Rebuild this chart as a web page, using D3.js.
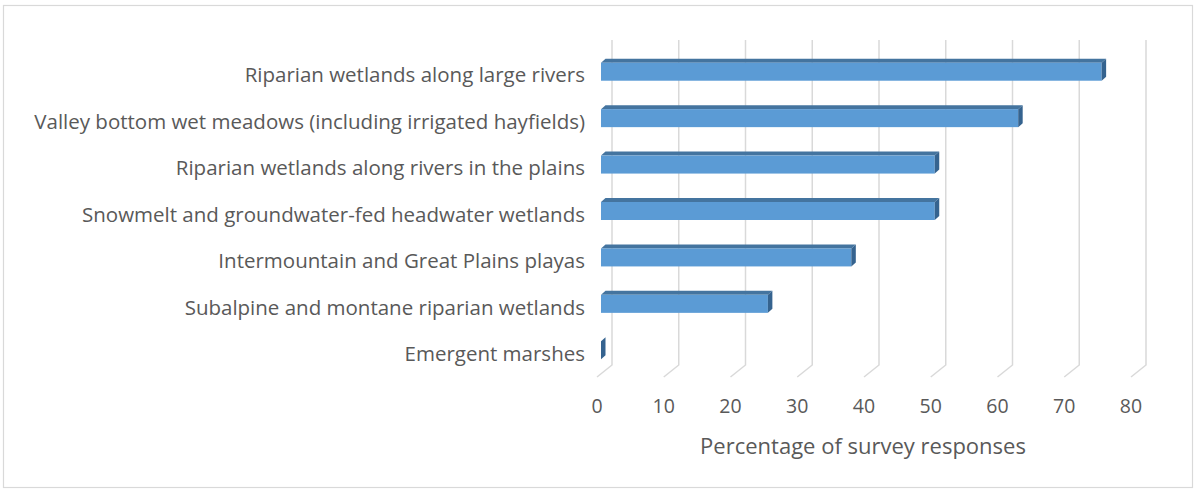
<!DOCTYPE html>
<html>
<head>
<meta charset="utf-8">
<script src="https://cdn.jsdelivr.net/npm/d3@7"></script>
<style>
  body { margin: 0; background: #fff; }
  text { font-family: "Open Sans", "Noto Sans", sans-serif; fill: #595959; }
</style>
</head>
<body>
<svg id="chart"></svg>
<script>
// survey data
var categories = [
  "Riparian wetlands along large rivers",
  "Valley bottom wet meadows (including irrigated hayfields)",
  "Riparian wetlands along rivers in the plains",
  "Snowmelt and groundwater-fed headwater wetlands",
  "Intermountain and Great Plains playas",
  "Subalpine and montane riparian wetlands",
  "Emergent marshes"
];
var percentages = [75, 62.5, 50, 50, 37.5, 25, 0];
var ticks = [0, 10, 20, 30, 40, 50, 60, 70, 80];
var axisTitle = "Percentage of survey responses";

var svgWidth = 1197,
    svgHeight = 492;

// 3d offsets
var wallDx = 15, wallDy = -12;   // floor front -> back wall
var barDx = 4.5, barDy = -4;     // bar depth
var barShift = 4;                // bar sits a bit behind the front plane

var svg = d3.select('#chart')
    .attr('width', svgWidth)
    .attr('height', svgHeight)

// outer border
svg.append('rect')
  .attr('x', 3.5).attr('y', 5.5)
  .attr('width', 1189).attr('height', 482)
  .attr('fill', '#fff')
  .attr('stroke', '#d9d9d9')
  .attr('stroke-width', 1.2)

var x = d3.scaleLinear().domain([0, 80]).range([597, 1131])
var y = d3.scaleBand().domain(categories).range([52, 377]).paddingInner(0.61).paddingOuter(0.305)

// gridlines: back wall vertical + floor diagonal
var grid = svg.append('g')
grid.selectAll('path')
  .data(ticks)
  .enter()
  .append('path')
  .attr('d', function(d) {
    var xb = x(d) + wallDx;
    return 'M' + xb + ',40 L' + xb + ',' + (377 + wallDy) + ' L' + x(d) + ',377';
  })
  .attr('fill', 'none')
  .attr('stroke', '#d9d9d9')
  .attr('stroke-width', 1.5)

// bars
var bars = svg.selectAll('.bar')
  .data(categories)
  .enter()
  .append('g')
  .attr('class', 'bar')

function barGeom(d, i) {
  var x0 = x(0) + barShift,
      x1 = x(percentages[i]) + barShift,
      yTop = y(d) + y.bandwidth() / 2 - 3.5 - 9,
      yBot = yTop + 18;
  return {x0: x0, x1: x1, yTop: yTop, yBot: yBot};
}

// top face
bars.append('path')
  .attr('d', function(d, i) {
    var g = barGeom(d, i);
    if (percentages[i] === 0) return '';
    return 'M' + g.x0 + ',' + g.yTop + ' L' + (g.x0 + barDx) + ',' + (g.yTop + barDy) +
      ' L' + (g.x1 + barDx) + ',' + (g.yTop + barDy) + ' L' + g.x1 + ',' + g.yTop + 'Z';
  })
  .attr('fill', '#44749f')

// front face
bars.append('rect')
  .attr('x', function(d, i) { return barGeom(d, i).x0; })
  .attr('y', function(d, i) { return barGeom(d, i).yTop; })
  .attr('width', function(d, i) { var g = barGeom(d, i); return g.x1 - g.x0; })
  .attr('height', 18)
  .attr('fill', '#5b9bd5')

// side face
bars.append('path')
  .attr('d', function(d, i) {
    var g = barGeom(d, i);
    return 'M' + g.x1 + ',' + g.yTop + ' L' + (g.x1 + barDx) + ',' + (g.yTop + barDy) +
      ' L' + (g.x1 + barDx) + ',' + (g.yBot + barDy) + ' L' + g.x1 + ',' + g.yBot + 'Z';
  })
  .attr('fill', '#35638f')

// category labels
svg.append('g')
  .selectAll('text')
  .data(categories)
  .enter()
  .append('text')
  .attr('x', 585)
  .attr('y', function(d) { return y(d) + y.bandwidth() / 2; })
  .attr('dy', '0.35em')
  .attr('text-anchor', 'end')
  .style('font-size', '20.5px')
  .text(function(d) { return d; })

// tick labels
svg.append('g')
  .selectAll('text')
  .data(ticks)
  .enter()
  .append('text')
  .attr('x', function(d) { return x(d); })
  .attr('y', 406)
  .attr('dy', '0.35em')
  .attr('text-anchor', 'middle')
  .style('font-size', '19.5px')
  .text(function(d) { return d; })

// axis title
svg.append('text')
  .attr('x', 863)
  .attr('y', 446)
  .attr('dy', '0.35em')
  .attr('text-anchor', 'middle')
  .style('font-size', '22px')
  .text(axisTitle)
</script>
</body>
</html>
